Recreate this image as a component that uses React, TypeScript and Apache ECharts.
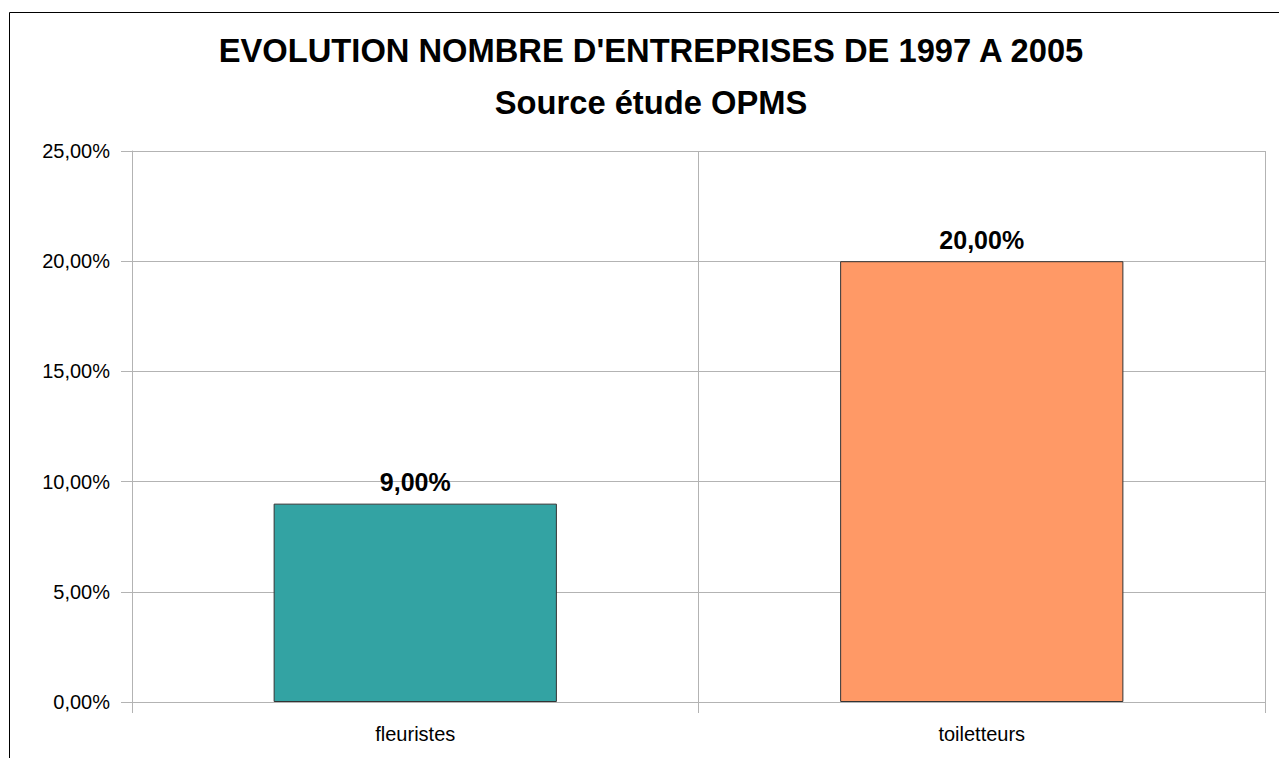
import React, { useEffect, useRef } from "react";
import * as echarts from "echarts";

const categories = ["fleuristes", "toiletteurs"];
const values = [9, 20];
const barColors = ["#33a3a3", "#ff9966"];
const yTicks = [0, 5, 10, 15, 20, 25];
const titleText = "EVOLUTION NOMBRE D'ENTREPRISES DE 1997 A 2005";
const subtitleText = "Source étude OPMS";

const fmt = (v: number) => v.toFixed(2).replace(".", ",") + "%";

export default function App() {
  const ref = useRef<HTMLDivElement>(null);
  useEffect(() => {
    if (!ref.current) return;
    const chart = echarts.init(ref.current, undefined, { renderer: "svg" });
    const font = "'Liberation Sans', Arial, sans-serif";
    chart.setOption({
      animation: false,
      backgroundColor: "#ffffff",
      textStyle: { fontFamily: font },
      title: [
        {
          text: titleText,
          left: 646,
          top: 29,
          textAlign: "center",
          textStyle: { fontSize: 32.7, fontWeight: "bold", color: "#000", fontFamily: font },
        },
        {
          text: subtitleText,
          left: 646,
          top: 81,
          textAlign: "center",
          textStyle: { fontSize: 32.7, fontWeight: "bold", color: "#000", fontFamily: font },
        },
      ],
      graphic: [
        {
          type: "rect",
          shape: { x: 9.5, y: 12.5, width: 1400, height: 900 },
          style: { fill: "none", stroke: "#000", lineWidth: 1 },
          silent: true,
          z: 100,
        },
      ],
      grid: { left: 132, right: 14, top: 151, bottom: 56, containLabel: false },
      xAxis: {
        type: "category",
        data: categories,
        boundaryGap: true,
        axisLine: { show: true, lineStyle: { color: "#b3b3b3", width: 1 } },
        axisTick: { show: true, inside: false, length: 11, lineStyle: { color: "#b3b3b3" } },
        axisLabel: { color: "#000", fontSize: 20, fontFamily: font, margin: 22 },
        splitLine: { show: true, lineStyle: { color: "#b3b3b3", width: 1 } },
      },
      yAxis: {
        type: "value",
        min: yTicks[0],
        max: yTicks[yTicks.length - 1],
        interval: 5,
        axisLine: { show: true, lineStyle: { color: "#b3b3b3", width: 1 } },
        axisTick: { show: true, inside: false, length: 11, lineStyle: { color: "#b3b3b3" } },
        axisLabel: { color: "#000", fontSize: 20, fontFamily: font, margin: 22, formatter: (v: number) => fmt(v) },
        splitLine: { show: true, lineStyle: { color: "#b3b3b3", width: 1 } },
      },
      series: [
        {
          type: "bar",
          barWidth: "50%",
          data: values.map((v, i) => ({
            value: v,
            itemStyle: { color: barColors[i], borderColor: "#333", borderWidth: 1 },
          })),
          label: {
            show: true,
            position: "top",
            distance: 9,
            color: "#000",
            fontSize: 25,
            fontWeight: "bold",
            fontFamily: font,
            formatter: (p: any) => fmt(p.value),
          },
        },
      ],
    });
    return () => chart.dispose();
  }, []);
  return (
    <div
      ref={ref}
      style={{ position: "fixed", left: 0, top: 0, width: 1279, height: 758 }}
    />
  );
}
